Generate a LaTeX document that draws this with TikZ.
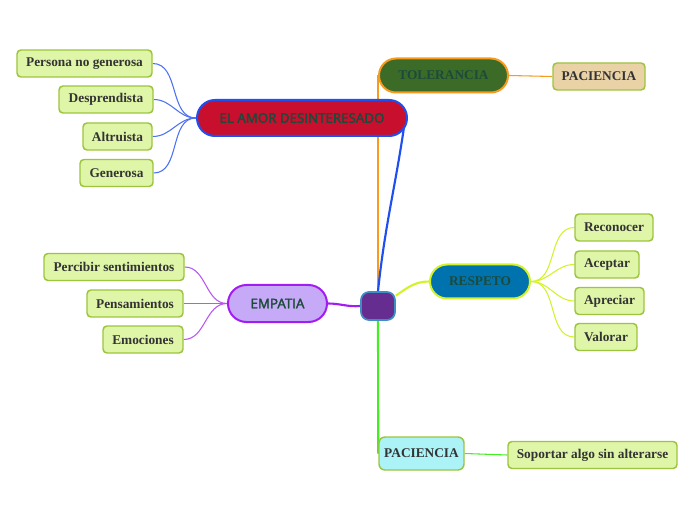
\documentclass[tikz,border=0pt]{standalone}
\usepackage{fontspec}
\setmainfont{Liberation Serif}
\newfontfamily\opensans{Open Sans}[BoldFont={Open Sans}, BoldFeatures={FakeBold=2.6}]
\usetikzlibrary{shapes.misc, backgrounds}

\definecolor{hojafill}{HTML}{DFF5A8}
\definecolor{hojaborde}{HTML}{9CC43E}
\definecolor{hojatexto}{HTML}{333333}
\definecolor{ramatexto}{HTML}{1C4A3B}
\definecolor{amorfill}{HTML}{C8102E}
\definecolor{azul}{HTML}{1F4FF0}
\definecolor{tolerfill}{HTML}{3B6B27}
\definecolor{naranja}{HTML}{F79A1E}
\definecolor{respfill}{HTML}{0073AE}
\definecolor{amarillo}{HTML}{D4F22A}
\definecolor{empfill}{HTML}{C6AAF7}
\definecolor{morado}{HTML}{A21EF0}
\definecolor{pacfill}{HTML}{ABF3F7}
\definecolor{pactan}{HTML}{E9D3A6}
\definecolor{verde}{HTML}{44EE22}
\definecolor{hubfill}{HTML}{662D91}
\definecolor{hubborde}{HTML}{3E8EC4}

\newcommand{\px}{0.75pt}

\tikzset{
  hoja/.style={draw=hojaborde, fill=hojafill, line width=1.1pt, rounded corners=3pt,
    inner sep=0pt, minimum height=27*\px, text=hojatexto,
    font=\fontsize{10}{11}\selectfont\bfseries},
  rama/.style={rounded rectangle, line width=1.5pt, inner sep=0pt,
    minimum height=34*\px, text=ramatexto},
  ramaserif/.style={rama, font=\fontsize{10}{11}\selectfont\bfseries},
  ramasans/.style={rama, font=\opensans\fontsize{10}{11}\selectfont\bfseries},
  tronco/.style={line width=1.6pt},
  hilo/.style={line width=0.8pt}
}

\begin{document}
\begin{tikzpicture}[x=0.75pt, y=-0.75pt]

  \useasboundingbox (0,0) rectangle (696,520);

  % centro
  \node[draw=hubborde, fill=hubfill, line width=1.3pt, rounded corners=8*\px,
    minimum width=34*\px, minimum height=28*\px, inner sep=0pt] (hub) at (378,306) {};

  % ramas principales
  \node[ramasans, fill=amorfill, draw=azul, minimum width=210*\px, minimum height=36*\px]
    (amor) at (302,118) {EL AMOR DESINTERESADO};
  \node[ramaserif, fill=tolerfill, draw=naranja, minimum width=129*\px] (toler) at (443.5,75.5) {TOLERANCIA};
  \node[ramaserif, fill=respfill, draw=amarillo, minimum width=100*\px] (resp) at (480,281.5) {RESPETO};
  \node[ramasans, fill=empfill, draw=morado, minimum width=99*\px, minimum height=37*\px]
    (emp) at (277.5,303.5) {EMPATIA};
  \node[draw=hojaborde, fill=pacfill, line width=1.1pt, rounded corners=6*\px, inner sep=0pt,
    minimum width=85*\px, minimum height=33*\px, text=hojatexto,
    font=\fontsize{10}{11}\selectfont\bfseries] (pacb) at (421.5,453.5) {PACIENCIA};

  % hojas
  \node[hoja, minimum width=135*\px] (persona) at (84.5,63.5) {Persona no generosa};
  \node[hoja, minimum width=94*\px] (despr) at (106,99.5) {Desprendista};
  \node[hoja, minimum width=69*\px] (altru) at (117.5,136.5) {Altruista};
  \node[hoja, minimum width=73*\px] (gener) at (116.5,173) {Generosa};

  \node[hoja, fill=pactan, minimum width=92*\px] (paca) at (599,76.5) {PACIENCIA};

  \node[hoja, minimum width=78*\px] (recon) at (614,227.5) {Reconocer};
  \node[hoja, minimum width=64*\px] (acep) at (607,264.5) {Aceptar};
  \node[hoja, minimum width=69*\px] (aprec) at (609.5,301) {Apreciar};
  \node[hoja, minimum width=62*\px] (valor) at (606,337) {Valorar};

  \node[hoja, minimum width=140*\px] (percib) at (114,267) {Percibir sentimientos};
  \node[hoja, minimum width=96*\px] (pensa) at (135,303.5) {Pensamientos};
  \node[hoja, minimum width=80*\px] (emoc) at (143,339.5) {Emociones};

  \node[hoja, minimum width=169*\px] (soport) at (592.5,455) {Soportar algo sin alterarse};

  % conectores
  \begin{scope}[on background layer]
    \draw[tronco, naranja] (hub.north) -- (toler.west);
    \draw[tronco, azul] (hub.north) to[out=84,in=-98] ([xshift=-2pt]amor.east);
    \draw[tronco, amarillo] (hub.30) to[out=35,in=180] (resp.west);
    \draw[tronco, morado] (hub.west) to[out=185,in=0] (emp.east);
    \draw[tronco, verde] (hub.south) -- (pacb.west);

    \foreach \h in {persona, despr, altru, gener}
      \draw[hilo, azul!80] (amor.west) to[out=180,in=0] (\h.east);
    \foreach \h in {recon, acep, aprec, valor}
      \draw[hilo, amarillo] (resp.east) to[out=0,in=180] (\h.west);
    \foreach \h in {percib, pensa, emoc}
      \draw[hilo, morado!75] (emp.west) to[out=180,in=0] (\h.east);
    \draw[hilo, naranja] (toler.east) -- (paca.west);
    \draw[hilo, verde] (pacb.east) -- (soport.west);
  \end{scope}

\end{tikzpicture}
\end{document}
